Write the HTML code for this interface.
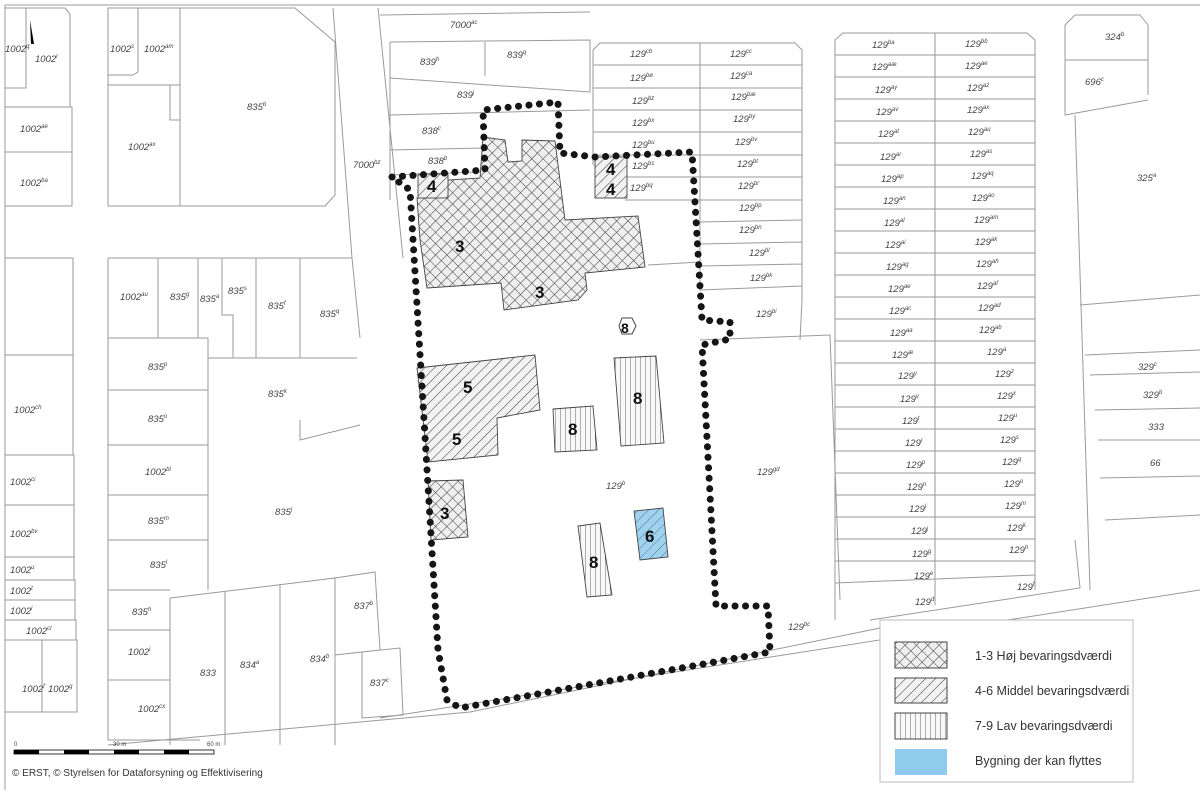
<!DOCTYPE html>
<html><head><meta charset="utf-8"><style>
html,body{margin:0;padding:0;background:#fff}
svg{display:block}
.l{stroke:#9a9a9a;stroke-width:1;fill:none}
text{font-family:"Liberation Sans",sans-serif;font-style:italic;font-size:9.5px;fill:#444}
.n{font-style:normal;font-weight:bold;font-size:17px;fill:#111}
.g{font-style:normal;font-size:12.5px;fill:#333}
.s{font-size:6px}
</style></head><body>
<svg width="1200" height="798" viewBox="0 0 1200 798" xmlns="http://www.w3.org/2000/svg">
<defs>
<pattern id="cx" width="8" height="8" patternUnits="userSpaceOnUse" patternTransform="rotate(45)">
<rect width="8" height="8" fill="#efefef"/><path d="M0 0H8M0 0V8" stroke="#444" stroke-width="1.1"/></pattern>
<pattern id="dg" width="7" height="7" patternUnits="userSpaceOnUse" patternTransform="rotate(45)">
<rect width="7" height="7" fill="#f2f2f2"/><path d="M0 0V7" stroke="#444" stroke-width="1.1"/></pattern>
<pattern id="dgb" width="7" height="7" patternUnits="userSpaceOnUse" patternTransform="rotate(45)">
<rect width="7" height="7" fill="#9fd2ee"/><path d="M0 0V7" stroke="#4a6a80" stroke-width="0.9"/></pattern>
<pattern id="vt" width="5" height="5" patternUnits="userSpaceOnUse">
<rect width="5" height="5" fill="#f8f8f8"/><path d="M0 0V5" stroke="#555" stroke-width="0.9"/></pattern>
</defs>
<rect width="1200" height="798" fill="#fff"/>
<path class="l" d="M5 5H1200M5 5V790"/>
<path class="l" d="M5 8H65L70 14V107H5M26 8V88H5M5 107H72V152H5M5 152H72V206H5"/>
<path class="l" d="M108 8H180V85H108ZM108 85H180V206H108ZM138 8V72L133 75H108M170 85V120H180"/>
<path class="l" d="M180 8H295L335 42V195L325 206H180ZM333 8L352 258M378 8L403 258"/>
<text x="5" y="52">1002<tspan class="s" dy="-4">q</tspan></text>
<text x="35" y="62">1002<tspan class="s" dy="-4">r</tspan></text>
<text x="110" y="52">1002<tspan class="s" dy="-4">s</tspan></text>
<text x="144" y="52">1002<tspan class="s" dy="-4">am</tspan></text>
<text x="247" y="110">835<tspan class="s" dy="-4">b</tspan></text>
<text x="20" y="132">1002<tspan class="s" dy="-4">ae</tspan></text>
<text x="20" y="186">1002<tspan class="s" dy="-4">ba</tspan></text>
<text x="128" y="150">1002<tspan class="s" dy="-4">ax</tspan></text>
<text x="353" y="168">7000<tspan class="s" dy="-4">bz</tspan></text>
<path d="M30 20L34 44L31 44Z" fill="#000"/>
<path class="l" d="M5 258H73V355H5M5 355H73V455H5M5 455H74V505H5M5 505H74V557H5M5 557H74V580H5M5 580H75V600H5M5 600H75V620H5M5 620H76V640H5M5 640H77V712H5M42 640V712"/>
<text x="14" y="413">1002<tspan class="s" dy="-4">ch</tspan></text>
<text x="10" y="485">1002<tspan class="s" dy="-4">ci</tspan></text>
<text x="10" y="537">1002<tspan class="s" dy="-4">bv</tspan></text>
<text x="10" y="573">1002<tspan class="s" dy="-4">u</tspan></text>
<text x="10" y="594">1002<tspan class="s" dy="-4">t</tspan></text>
<text x="10" y="614">1002<tspan class="s" dy="-4">i</tspan></text>
<text x="26" y="634">1002<tspan class="s" dy="-4">cl</tspan></text>
<text x="22" y="692">1002<tspan class="s" dy="-4">f</tspan></text>
<text x="48" y="692">1002<tspan class="s" dy="-4">g</tspan></text>
<path class="l" d="M108 258H352L360 338M108 258V740M158 258V338M198 258V338M222 258V315L233 315V358M256 258V358M300 258V358M108 338H208V590M108 390H208M108 445H208M108 495H208M108 540H208M208 358H357M108 590H170M108 630H170M108 680H170M108 740H200M300 420V440L360 425"/>
<text x="120" y="300">1002<tspan class="s" dy="-4">au</tspan></text>
<text x="170" y="300">835<tspan class="s" dy="-4">g</tspan></text>
<text x="200" y="302">835<tspan class="s" dy="-4">a</tspan></text>
<text x="228" y="294">835<tspan class="s" dy="-4">s</tspan></text>
<text x="268" y="309">835<tspan class="s" dy="-4">f</tspan></text>
<text x="320" y="317">835<tspan class="s" dy="-4">q</tspan></text>
<text x="148" y="370">835<tspan class="s" dy="-4">p</tspan></text>
<text x="148" y="422">835<tspan class="s" dy="-4">o</tspan></text>
<text x="145" y="475">1002<tspan class="s" dy="-4">bl</tspan></text>
<text x="148" y="524">835<tspan class="s" dy="-4">m</tspan></text>
<text x="150" y="568">835<tspan class="s" dy="-4">l</tspan></text>
<text x="132" y="615">835<tspan class="s" dy="-4">h</tspan></text>
<text x="128" y="655">1002<tspan class="s" dy="-4">i</tspan></text>
<text x="138" y="712">1002<tspan class="s" dy="-4">cx</tspan></text>
<text x="268" y="397">835<tspan class="s" dy="-4">k</tspan></text>
<text x="275" y="515">835<tspan class="s" dy="-4">j</tspan></text>
<path class="l" d="M170 598L335 578V745M170 598V745M225 592V745M280 585V745M335 578L375 572L380 650L335 655M362 652L400 648L403 715L362 718ZM108 745L470 712L880 628M380 718L1200 590"/>
<text x="200" y="676">833</text>
<text x="240" y="668">834<tspan class="s" dy="-4">a</tspan></text>
<text x="310" y="662">834<tspan class="s" dy="-4">b</tspan></text>
<text x="354" y="609">837<tspan class="s" dy="-4">b</tspan></text>
<text x="370" y="686">837<tspan class="s" dy="-4">c</tspan></text>
<path class="l" d="M380 15L590 12M390 42L590 40V92L390 78M390 42V200M485 42V76M390 115L590 110M390 150L485 148M390 175L480 172"/>
<text x="450" y="28">7000<tspan class="s" dy="-4">ac</tspan></text>
<text x="420" y="65">839<tspan class="s" dy="-4">h</tspan></text>
<text x="507" y="58">839<tspan class="s" dy="-4">q</tspan></text>
<text x="457" y="98">839<tspan class="s" dy="-4">j</tspan></text>
<text x="422" y="134">838<tspan class="s" dy="-4">c</tspan></text>
<text x="428" y="164">838<tspan class="s" dy="-4">b</tspan></text>
<path class="l" d="M593 50L600 43H795L802 50V300M593 50V165M700 43V290M802 300L800 340M593 65H802M593 88H802M593 110H802M593 132H802M593 155H802M600 177H802M625 200H802M700 222L802 220M700 244L802 242M700 266L802 264M700 290L802 286M648 265L700 262M700 340L830 335L840 600"/>
<text x="630" y="57">129<tspan class="s" dy="-4">cb</tspan></text>
<text x="730" y="57">129<tspan class="s" dy="-4">cc</tspan></text>
<text x="630" y="81">129<tspan class="s" dy="-4">bø</tspan></text>
<text x="730" y="79">129<tspan class="s" dy="-4">ca</tspan></text>
<text x="632" y="104">129<tspan class="s" dy="-4">bz</tspan></text>
<text x="731" y="100">129<tspan class="s" dy="-4">bæ</tspan></text>
<text x="632" y="126">129<tspan class="s" dy="-4">bx</tspan></text>
<text x="733" y="122">129<tspan class="s" dy="-4">by</tspan></text>
<text x="632" y="148">129<tspan class="s" dy="-4">bu</tspan></text>
<text x="735" y="145">129<tspan class="s" dy="-4">bv</tspan></text>
<text x="632" y="169">129<tspan class="s" dy="-4">bs</tspan></text>
<text x="737" y="167">129<tspan class="s" dy="-4">bt</tspan></text>
<text x="630" y="191">129<tspan class="s" dy="-4">bq</tspan></text>
<text x="738" y="189">129<tspan class="s" dy="-4">br</tspan></text>
<text x="739" y="211">129<tspan class="s" dy="-4">bp</tspan></text>
<text x="739" y="233">129<tspan class="s" dy="-4">bn</tspan></text>
<text x="749" y="256">129<tspan class="s" dy="-4">bl</tspan></text>
<text x="750" y="281">129<tspan class="s" dy="-4">bk</tspan></text>
<text x="756" y="317">129<tspan class="s" dy="-4">bi</tspan></text>
<text x="757" y="475">129<tspan class="s" dy="-4">gd</tspan></text>
<text x="606" y="489">129<tspan class="s" dy="-4">b</tspan></text>
<text x="788" y="630">129<tspan class="s" dy="-4">bc</tspan></text>
<path class="l" d="M835 40L843 33H1027L1035 40V590M835 40V620M935 33V605M835 55H1035M835 77H1035M835 99H1035M835 121H1035M835 143H1035M835 165H1035M835 187H1035M835 209H1035M835 231H1035M835 253H1035M835 275H1035M835 297H1035M835 319H1035M835 341H1035M835 363H1035M835 385H1035M835 407H1035M835 429H1035M835 451H1035M835 473H1035M835 495H1035M835 517H1035M835 539H1035M835 561H1035M835 583L1035 575M870 620L1080 588L1075 540"/>
<g>
<text x="872" y="48">129<tspan class="s" dy="-4">ba</tspan></text><text x="965" y="47">129<tspan class="s" dy="-4">bb</tspan></text>
<text x="872" y="70">129<tspan class="s" dy="-4">aæ</tspan></text><text x="965" y="69">129<tspan class="s" dy="-4">ae</tspan></text>
<text x="875" y="93">129<tspan class="s" dy="-4">ay</tspan></text><text x="967" y="91">129<tspan class="s" dy="-4">az</tspan></text>
<text x="876" y="115">129<tspan class="s" dy="-4">av</tspan></text><text x="967" y="113">129<tspan class="s" dy="-4">ax</tspan></text>
<text x="878" y="137">129<tspan class="s" dy="-4">at</tspan></text><text x="968" y="135">129<tspan class="s" dy="-4">au</tspan></text>
<text x="880" y="160">129<tspan class="s" dy="-4">ar</tspan></text><text x="970" y="157">129<tspan class="s" dy="-4">as</tspan></text>
<text x="881" y="182">129<tspan class="s" dy="-4">ap</tspan></text><text x="971" y="179">129<tspan class="s" dy="-4">aq</tspan></text>
<text x="883" y="204">129<tspan class="s" dy="-4">an</tspan></text><text x="972" y="201">129<tspan class="s" dy="-4">ao</tspan></text>
<text x="884" y="226">129<tspan class="s" dy="-4">al</tspan></text><text x="974" y="223">129<tspan class="s" dy="-4">am</tspan></text>
<text x="885" y="248">129<tspan class="s" dy="-4">ai</tspan></text><text x="975" y="245">129<tspan class="s" dy="-4">ak</tspan></text>
<text x="886" y="270">129<tspan class="s" dy="-4">ag</tspan></text><text x="976" y="267">129<tspan class="s" dy="-4">ah</tspan></text>
<text x="888" y="292">129<tspan class="s" dy="-4">ae</tspan></text><text x="977" y="289">129<tspan class="s" dy="-4">af</tspan></text>
<text x="889" y="314">129<tspan class="s" dy="-4">ac</tspan></text><text x="978" y="311">129<tspan class="s" dy="-4">ad</tspan></text>
<text x="890" y="336">129<tspan class="s" dy="-4">aa</tspan></text><text x="979" y="333">129<tspan class="s" dy="-4">ab</tspan></text>
<text x="892" y="358">129<tspan class="s" dy="-4">æ</tspan></text><text x="987" y="355">129<tspan class="s" dy="-4">a</tspan></text>
<text x="898" y="379">129<tspan class="s" dy="-4">y</tspan></text><text x="995" y="377">129<tspan class="s" dy="-4">z</tspan></text>
<text x="900" y="402">129<tspan class="s" dy="-4">v</tspan></text><text x="997" y="399">129<tspan class="s" dy="-4">x</tspan></text>
<text x="902" y="424">129<tspan class="s" dy="-4">t</tspan></text><text x="998" y="421">129<tspan class="s" dy="-4">u</tspan></text>
<text x="905" y="446">129<tspan class="s" dy="-4">r</tspan></text><text x="1000" y="443">129<tspan class="s" dy="-4">s</tspan></text>
<text x="906" y="468">129<tspan class="s" dy="-4">p</tspan></text><text x="1002" y="465">129<tspan class="s" dy="-4">q</tspan></text>
<text x="907" y="490">129<tspan class="s" dy="-4">n</tspan></text><text x="1004" y="487">129<tspan class="s" dy="-4">o</tspan></text>
<text x="909" y="512">129<tspan class="s" dy="-4">l</tspan></text><text x="1005" y="509">129<tspan class="s" dy="-4">m</tspan></text>
<text x="911" y="534">129<tspan class="s" dy="-4">j</tspan></text><text x="1007" y="531">129<tspan class="s" dy="-4">k</tspan></text>
<text x="912" y="557">129<tspan class="s" dy="-4">g</tspan></text><text x="1009" y="553">129<tspan class="s" dy="-4">h</tspan></text>
<text x="914" y="579">129<tspan class="s" dy="-4">e</tspan></text>
<text x="915" y="605">129<tspan class="s" dy="-4">d</tspan></text><text x="1017" y="590">129<tspan class="s" dy="-4">f</tspan></text>
</g>
<path class="l" d="M1065 25L1075 15H1140L1148 25V60H1065M1065 25V115L1148 100M1148 60V95M1075 115L1090 590M1080 305L1200 295M1085 355L1200 350M1090 375L1200 372M1095 410L1200 408M1098 440L1200 440M1100 478L1200 476M1105 520L1200 515"/>
<text x="1105" y="40">324<tspan class="s" dy="-4">b</tspan></text>
<text x="1085" y="85">696<tspan class="s" dy="-4">c</tspan></text>
<text x="1137" y="181">325<tspan class="s" dy="-4">a</tspan></text>
<text x="1138" y="370">329<tspan class="s" dy="-4">c</tspan></text>
<text x="1143" y="398">329<tspan class="s" dy="-4">b</tspan></text>
<text x="1148" y="430">333</text>
<text x="1150" y="466">66</text>
<path d="M417 198L448 196L448 180L480 178L483 137L505 140L508 162L522 161L522 140L555 141L565 220L638 216L645 267L585 273L587 290L578 300L504 310L501 283L427 288L420 240Z" fill="url(#cx)" stroke="#444" stroke-width="0.9"/>
<rect x="418" y="174" width="30" height="24" fill="url(#dg)" stroke="#444" stroke-width="0.9"/>
<rect x="595" y="157" width="32" height="41" fill="url(#dg)" stroke="#444" stroke-width="0.9"/>
<path d="M417 368L535 355L540 410L497 418L498 455L428 462Z" fill="url(#dg)" stroke="#444" stroke-width="0.9"/>
<path d="M553 409L593 406L597 450L555 452Z" fill="url(#vt)" stroke="#444" stroke-width="0.9"/>
<path d="M614 358L656 356L664 443L621 446Z" fill="url(#vt)" stroke="#444" stroke-width="0.9"/>
<path d="M428 481L463 480L468 537L431 540Z" fill="url(#cx)" stroke="#444" stroke-width="0.9"/>
<path d="M578 526L600 523L612 595L587 597Z" fill="url(#vt)" stroke="#444" stroke-width="0.9"/>
<path d="M634 511L663 508L668 557L640 560Z" fill="url(#dgb)" stroke="#444" stroke-width="0.9"/>
<path d="M622 318L632 318L636 326L632 334L622 334L619 326Z" fill="#fff" stroke="#444"/>
<text class="n" x="455" y="252">3</text>
<text class="n" x="535" y="298">3</text>
<text class="n" x="427" y="192">4</text>
<text class="n" x="606" y="175">4</text>
<text class="n" x="606" y="195">4</text>
<text class="n" x="463" y="393">5</text>
<text class="n" x="452" y="445">5</text>
<text class="n" x="568" y="435">8</text>
<text class="n" x="633" y="404">8</text>
<text class="n" x="621" y="333" style="font-size:14px">8</text>
<text class="n" x="440" y="519">3</text>
<text class="n" x="589" y="568">8</text>
<text class="n" x="645" y="542">6</text>
<path d="M392 177L485 170L483 110L558 102L560 153L595 157L692 152L702 320L730 322L730 339L702 345L716 606L768 606L770 652L460 708L447 700L438 650L410 190Z" fill="none" stroke="#151515" stroke-width="7" stroke-linecap="round" stroke-dasharray="0.1 10.4"/>
<rect x="880" y="620" width="253" height="162" fill="#fff" stroke="#bbb"/>
<rect x="895" y="642" width="52" height="26" fill="url(#cx)" stroke="#444"/>
<rect x="895" y="678" width="52" height="25" fill="url(#dg)" stroke="#444"/>
<rect x="895" y="713" width="52" height="26" fill="url(#vt)" stroke="#444"/>
<rect x="895" y="749" width="52" height="26" fill="#8ecbec"/>
<text class="g" x="975" y="660">1-3 Høj bevaringsdværdi</text>
<text class="g" x="975" y="695">4-6 Middel bevaringsdværdi</text>
<text class="g" x="975" y="730">7-9 Lav bevaringsdværdi</text>
<text class="g" x="975" y="765">Bygning der kan flyttes</text>
<text x="14" y="746" style="font-style:normal;font-size:6px">0</text>
<text x="113" y="746" style="font-style:normal;font-size:6px">30 m</text>
<text x="207" y="746" style="font-style:normal;font-size:6px">60 m</text>
<rect x="14" y="750" width="200" height="4" fill="#fff" stroke="#000" stroke-width="0.8"/>
<path d="M14 750h25v4h-25zM64 750h25v4h-25zM114 750h25v4h-25zM164 750h25v4h-25z" fill="#000"/>
<text x="12" y="776" style="font-style:normal;font-size:10px;fill:#333">© ERST, © Styrelsen for Dataforsyning og Effektivisering</text>
</svg>
</body></html>
